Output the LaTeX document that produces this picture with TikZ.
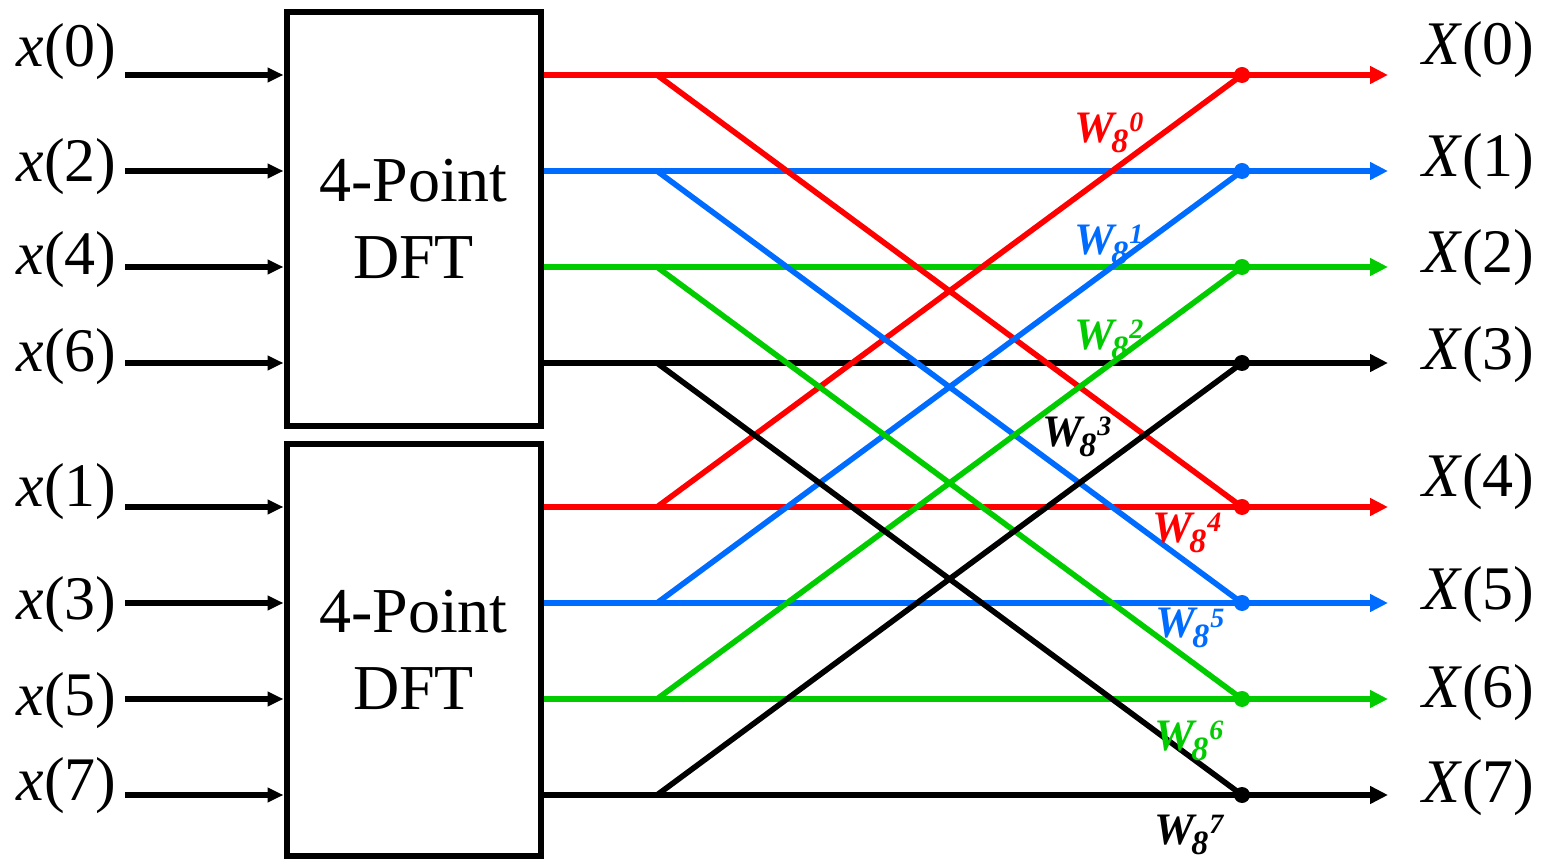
\documentclass[tikz,border=0pt]{standalone}
\usepackage{fontspec}
\setmainfont{Liberation Serif}
\usetikzlibrary{arrows.meta,positioning}
\definecolor{fftred}{RGB}{255,0,0}
\definecolor{fftblue}{RGB}{0,108,255}
\definecolor{fftgreen}{RGB}{0,204,0}
\newcommand{\twid}[1]{\textbf{\textit{W\kern-1.5pt\raisebox{-5pt}{\fontsize{17}{17}\selectfont 8}\kern0.5pt\raisebox{5.5pt}{\fontsize{14}{14}\selectfont #1}}}}

\begin{document}
\begin{tikzpicture}[x=0.5pt,y=-0.5pt,
    dftbox/.style={draw,line width=3pt,minimum width=127pt,align=center,
        font=\fontsize{32}{38.5}\selectfont},
    inlabel/.style={anchor=base east,inner sep=0pt,font=\fontsize{31}{37}\selectfont},
    outlabel/.style={anchor=base west,inner sep=0pt,font=\fontsize{31}{37}\selectfont},
    wlabel/.style={anchor=base west,inner sep=0pt,font=\fontsize{22.5}{22.5}\selectfont},
    inarrow/.style={line width=3pt,-{Triangle[length=8pt,width=7pt]}},
    wire/.style={line width=2.8pt},
    outarrow/.style={line width=2.8pt,-{Triangle[length=9pt,width=8.5pt]}}]
    \useasboundingbox (0,0) rectangle (1542,860);

    % DFT blocks
    \node[dftbox,minimum height=207pt] (dftA) at (413.5,219) {4-Point\\DFT};
    \node[dftbox,minimum height=206pt] (dftB) at (413.5,650) {4-Point\\DFT};

    % Row points
    \coordinate (s0) at (125,75);  \coordinate (b0) at (657,75);  \coordinate (d0) at (1242,75);  \coordinate (e0) at (1388,75);
    \coordinate (s1) at (125,171); \coordinate (b1) at (657,171); \coordinate (d1) at (1242,171); \coordinate (e1) at (1388,171);
    \coordinate (s2) at (125,267); \coordinate (b2) at (657,267); \coordinate (d2) at (1242,267); \coordinate (e2) at (1388,267);
    \coordinate (s3) at (125,363); \coordinate (b3) at (657,363); \coordinate (d3) at (1242,363); \coordinate (e3) at (1388,363);
    \coordinate (s4) at (125,507); \coordinate (b4) at (657,507); \coordinate (d4) at (1242,507); \coordinate (e4) at (1388,507);
    \coordinate (s5) at (125,603); \coordinate (b5) at (657,603); \coordinate (d5) at (1242,603); \coordinate (e5) at (1388,603);
    \coordinate (s6) at (125,699); \coordinate (b6) at (657,699); \coordinate (d6) at (1242,699); \coordinate (e6) at (1388,699);
    \coordinate (s7) at (125,795); \coordinate (b7) at (657,795); \coordinate (d7) at (1242,795); \coordinate (e7) at (1388,795);

    % Inputs
    \node[inlabel] (x0) at (117,67)  {\textit{x}(0)};
    \node[inlabel] (x2) at (117,182) {\textit{x}(2)};
    \node[inlabel] (x4) at (117,275) {\textit{x}(4)};
    \node[inlabel] (x6) at (117,372) {\textit{x}(6)};
    \node[inlabel] (x1) at (117,507) {\textit{x}(1)};
    \node[inlabel] (x3) at (117,620) {\textit{x}(3)};
    \node[inlabel] (x5) at (117,715) {\textit{x}(5)};
    \node[inlabel] (x7) at (117,800) {\textit{x}(7)};
    \draw[inarrow] (s0) -- (dftA.west |- s0);
    \draw[inarrow] (s1) -- (dftA.west |- s1);
    \draw[inarrow] (s2) -- (dftA.west |- s2);
    \draw[inarrow] (s3) -- (dftA.west |- s3);
    \draw[inarrow] (s4) -- (dftB.west |- s4);
    \draw[inarrow] (s5) -- (dftB.west |- s5);
    \draw[inarrow] (s6) -- (dftB.west |- s6);
    \draw[inarrow] (s7) -- (dftB.west |- s7);

    % Outputs
    \draw[outarrow,fftred]   (dftA.east |- b0) -- (e0);
    \draw[outarrow,fftblue]  (dftA.east |- b1) -- (e1);
    \draw[outarrow,fftgreen] (dftA.east |- b2) -- (e2);
    \draw[outarrow]          (dftA.east |- b3) -- (e3);
    \draw[outarrow,fftred]   (dftB.east |- b4) -- (e4);
    \draw[outarrow,fftblue]  (dftB.east |- b5) -- (e5);
    \draw[outarrow,fftgreen] (dftB.east |- b6) -- (e6);
    \draw[outarrow]          (dftB.east |- b7) -- (e7);

    % Butterflies
    \draw[wire,fftred]   (b0) -- (d4); \draw[wire,fftred]   (b4) -- (d0);
    \draw[wire,fftblue]  (b1) -- (d5); \draw[wire,fftblue]  (b5) -- (d1);
    \draw[wire,fftgreen] (b2) -- (d6); \draw[wire,fftgreen] (b6) -- (d2);
    \draw[wire]          (b3) -- (d7); \draw[wire]          (b7) -- (d3);
    \fill[fftred]   (d0) circle (4pt) (d4) circle (4pt);
    \fill[fftblue]  (d1) circle (4pt) (d5) circle (4pt);
    \fill[fftgreen] (d2) circle (4pt) (d6) circle (4pt);
    \fill           (d3) circle (4pt) (d7) circle (4pt);

    % Twiddle factors
    \node[wlabel,fftred]   (w0) at (1074,143) {\twid{0}};
    \node[wlabel,fftblue]  (w1) at (1074,255) {\twid{1}};
    \node[wlabel,fftgreen] (w2) at (1074,350) {\twid{2}};
    \node[wlabel]          (w3) at (1042,447) {\twid{3}};
    \node[wlabel,fftred]   (w4) at (1152,543) {\twid{4}};
    \node[wlabel,fftblue]  (w5) at (1155,638) {\twid{5}};
    \node[wlabel,fftgreen] (w6) at (1154,750) {\twid{6}};
    \node[wlabel]          (w7) at (1154,844) {\twid{7}};

    % Output labels
    \node[outlabel] (X0) at (1422,65)  {\textit{X}(0)};
    \node[outlabel] (X1) at (1422,177) {\textit{X}(1)};
    \node[outlabel] (X2) at (1422,273) {\textit{X}(2)};
    \node[outlabel] (X3) at (1422,370) {\textit{X}(3)};
    \node[outlabel] (X4) at (1422,497) {\textit{X}(4)};
    \node[outlabel] (X5) at (1422,610) {\textit{X}(5)};
    \node[outlabel] (X6) at (1422,707) {\textit{X}(6)};
    \node[outlabel] (X7) at (1422,802) {\textit{X}(7)};
\end{tikzpicture}
\end{document}
